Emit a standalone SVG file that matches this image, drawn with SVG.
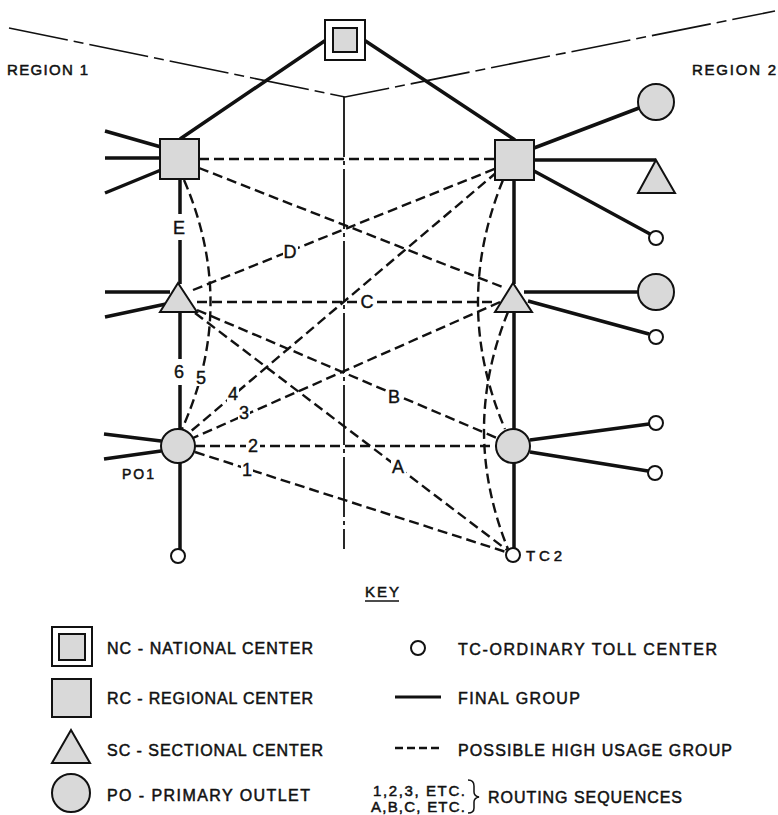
<svg xmlns="http://www.w3.org/2000/svg" width="778" height="815" viewBox="0 0 778 815">
<style>
.fin{stroke:#111;stroke-width:3.5;fill:none;stroke-linecap:butt}
.hu{stroke:#111;stroke-width:2.4;fill:none;stroke-dasharray:10 5}
.bd{stroke:#111;stroke-width:1.6;fill:none;stroke-dasharray:60 6 10 6}
.vl{stroke:#111;stroke-width:1.8;fill:none;stroke-dasharray:60 4 4 4}
.sh{fill:#d9d9d9;stroke:#111;stroke-width:2}
.tc{fill:#fff;stroke:#111;stroke-width:2}
.t{font-family:"Liberation Sans",Arial,sans-serif;fill:#111;stroke:#111;stroke-width:0.5}
.lb{font-family:"Liberation Sans",Arial,sans-serif;font-size:18px;fill:#111;stroke:#111;stroke-width:0.4;text-anchor:middle;dominant-baseline:central}
.bg{fill:#fff}
.k{font-size:16px}
</style>
<rect width="778" height="815" fill="#fff"/>

<g id="boundaries">
<path class="bd" d="M9,28 L345,97 L775,11"/>
<path class="vl" d="M344,97 L344,549"/>
<text class="t" x="7" y="75" font-size="15" textLength="81" lengthAdjust="spacing">REGION 1</text>
<text class="t" x="692" y="75" font-size="15" textLength="84" lengthAdjust="spacing">REGION 2</text>
</g>

<g id="connectors">
<!-- final groups -->
<path class="fin" d="M326,40 L180,139 M364,40 L515,140"/>
<path class="fin" d="M105,131 L161,147 M105,158 L161,158 M105,193 L161,170"/>
<path class="fin" d="M180,179 L180,214 M180,240 L180,284 M180,312 L180,359 M180,385 L180,430 M180,462 L180,549"/>
<path class="fin" d="M105,292 L170,292 M105,317 L166,304"/>
<path class="fin" d="M104,434 L161,441 M104,459 L161,451"/>
<path class="fin" d="M514,179 L514,284 M514,312 L514,430 M514,462 L514,548"/>
<path class="fin" d="M534,148 L639,108 M534,160 L656,160 M534,171 L650,234"/>
<path class="fin" d="M524,292 L638,292 M528,301 L649,334"/>
<path class="fin" d="M530,440 L649,424 M530,452 L648,471"/>
<!-- high usage groups -->
<path class="hu" d="M199,159 L495,159"/>
<path class="hu" d="M199,168 L505,288"/>
<path class="hu" d="M193,290 L497,168"/>
<path class="hu" d="M197,302 L497,302"/>
<path class="hu" d="M497,172 L190,432"/>
<path class="hu" d="M500,302 L193,438"/>
<path class="hu" d="M195,446 L496,446"/>
<path class="hu" d="M195,452 L506,552"/>
<path class="hu" d="M197,310 L497,438"/>
<path class="hu" d="M195,313 L507,550"/>
<path class="hu" d="M184,180 Q238,305 182,429"/>
<path class="hu" d="M503,180 Q452,305 505,429"/>
<path class="hu" d="M508,312 Q460,430 508,549"/>
<!-- sequence labels -->
<g class="bg">
<rect x="195" y="370" width="12" height="16"/>
<rect x="227" y="386" width="12" height="16"/>
<rect x="238" y="405" width="12" height="16"/>
<rect x="246" y="438" width="14" height="16"/>
<rect x="241" y="462" width="12" height="16"/>
<rect x="283" y="244" width="15" height="16"/>
<rect x="359" y="294" width="16" height="16"/>
<rect x="387" y="389" width="14" height="16"/>
<rect x="391" y="459" width="15" height="16"/>
</g>
<g class="lb">
<text x="179" y="228">E</text><text x="179" y="372">6</text><text x="201" y="378">5</text>
<text x="233" y="394">4</text><text x="244" y="413">3</text><text x="253" y="446">2</text>
<text x="247" y="470">1</text><text x="290" y="252">D</text><text x="367" y="302">C</text>
<text x="394" y="397">B</text><text x="398" y="467">A</text>
</g>
</g>

<g id="nc">
<rect x="325" y="20" width="40" height="40" fill="#fff" stroke="#111" stroke-width="2"/>
<rect class="sh" x="333" y="28" width="24" height="24"/>
</g>
<g id="rc1"><rect class="sh" x="160" y="139" width="39" height="40"/></g>
<g id="rc2"><rect class="sh" x="495" y="140" width="39" height="40"/></g>
<g id="sc1"><polygon class="sh" points="178,283 160,312 197,312"/></g>
<g id="sc2"><polygon class="sh" points="513,283 495,312 532,312"/></g>
<g id="po1"><circle class="sh" cx="178" cy="446" r="17"/>
<text class="t" x="122" y="479" font-size="14" textLength="32" lengthAdjust="spacing">PO1</text></g>
<g id="po2"><circle class="sh" cx="513" cy="446" r="17"/></g>
<g id="tc1"><circle class="tc" cx="178" cy="556" r="7"/></g>
<g id="tc2"><circle class="tc" cx="513" cy="555" r="7"/>
<text class="t" x="526" y="561" font-size="15" textLength="36" lengthAdjust="spacing">TC2</text></g>
<g id="r2po"><circle class="sh" cx="656" cy="102" r="18"/></g>
<g id="r2sc"><polygon class="sh" points="656,160 638,193 675,193"/></g>
<g id="r2tc1"><circle class="tc" cx="656" cy="238" r="7"/></g>
<g id="r2po2"><circle class="sh" cx="656" cy="292" r="18"/></g>
<g id="r2tc2"><circle class="tc" cx="656" cy="337" r="7"/></g>
<g id="r2tc3"><circle class="tc" cx="656" cy="423" r="7"/></g>
<g id="r2tc4"><circle class="tc" cx="655" cy="473" r="7"/></g>

<g id="key">
<text class="t" x="365" y="597" font-size="15" textLength="34" lengthAdjust="spacing">KEY</text>
<line x1="365" y1="601" x2="399" y2="601" stroke="#111" stroke-width="1.5"/>
<rect x="52" y="627" width="40" height="39" fill="#fff" stroke="#111" stroke-width="2"/>
<rect class="sh" x="59" y="634" width="26" height="26"/>
<text class="t k" x="107" y="654" textLength="206" lengthAdjust="spacing">NC - NATIONAL  CENTER</text>
<rect class="sh" x="52" y="679" width="39" height="38"/>
<text class="t k" x="107" y="704" textLength="206" lengthAdjust="spacing">RC - REGIONAL  CENTER</text>
<polygon class="sh" points="71,730 52,763 90,763"/>
<text class="t k" x="107" y="756" textLength="216" lengthAdjust="spacing">SC - SECTIONAL  CENTER</text>
<circle class="sh" cx="71" cy="793" r="19"/>
<text class="t k" x="107" y="801" textLength="203" lengthAdjust="spacing">PO - PRIMARY  OUTLET</text>
<circle class="tc" cx="418" cy="648" r="7"/>
<text class="t k" x="458" y="655" textLength="259" lengthAdjust="spacing">TC-ORDINARY TOLL CENTER</text>
<line x1="395" y1="697" x2="441" y2="697" stroke="#111" stroke-width="3"/>
<text class="t k" x="458" y="704" textLength="122" lengthAdjust="spacing">FINAL  GROUP</text>
<line x1="395" y1="748" x2="441" y2="748" stroke="#111" stroke-width="2.4" stroke-dasharray="8 4"/>
<text class="t k" x="458" y="756" textLength="274" lengthAdjust="spacing">POSSIBLE  HIGH  USAGE  GROUP</text>
<text class="t" x="373" y="796" font-size="15" textLength="92" lengthAdjust="spacing">1,2,3, ETC.</text>
<text class="t" x="371" y="812" font-size="15" textLength="94" lengthAdjust="spacing">A,B,C, ETC.</text>
<path d="M468,780 Q474,780 474,786 L474,792 Q474,796 479,797 Q474,798 474,802 L474,808 Q474,813 468,813" fill="none" stroke="#111" stroke-width="1.5"/>
<text class="t k" x="488" y="803" textLength="194" lengthAdjust="spacing">ROUTING  SEQUENCES</text>
</g>
</svg>
